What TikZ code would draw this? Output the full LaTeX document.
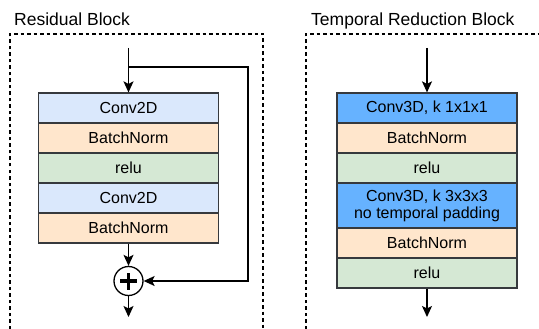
\documentclass[tikz,border=0pt]{standalone}
\usepackage{fontspec}
\setmainfont{Liberation Sans}
\usetikzlibrary{arrows.meta}

\definecolor{convlight}{HTML}{DAE8FC}
\definecolor{convstrong}{HTML}{66B2FF}
\definecolor{normfill}{HTML}{FFE6CC}
\definecolor{relufill}{HTML}{D5E8D4}
\definecolor{edge}{HTML}{36393D}

\tikzset{
  layer/.style={draw=edge, line width=1.2pt, minimum width=180pt, minimum height=30pt,
    inner sep=0pt, align=center, font=\fontsize{16pt}{17pt}\selectfont},
  conv2d/.style={layer, fill=convlight},
  conv3d/.style={layer, fill=convstrong},
  bnorm/.style={layer, fill=normfill},
  relu/.style={layer, fill=relufill},
  title/.style={anchor=base west, inner sep=0pt, font=\fontsize{17.5pt}{19pt}\selectfont},
  frame/.style={draw=black, line width=1.1pt, dash pattern=on 3.5pt off 3pt},
  flow/.style={draw=black, line width=1.3pt, -{Stealth[length=11pt,width=10pt,inset=2.5pt]}},
  sumnode/.style={circle, draw=black, line width=1.3pt, minimum size=29pt, inner sep=0pt, fill=white}
}

\begin{document}
\begin{tikzpicture}[x=1pt, y=-1pt]
  \useasboundingbox (0,0) rectangle (539,329);

  % ---------------- Residual block ----------------
  \node[title] (t1) at (14,26) {Residual Block};
  \draw[frame] (10,329) -- (10,34) -- (263,34) -- (263,329);

  \node[conv2d] (a1) at (128.5,108) {Conv2D};
  \node[bnorm]  (a2) at (128.5,138) {BatchNorm};
  \node[relu]   (a3) at (128.5,168) {relu};
  \node[conv2d] (a4) at (128.5,198) {Conv2D};
  \node[bnorm]  (a5) at (128.5,228) {BatchNorm};

  \node[sumnode] (sum) at (128.5,281) {};
  \draw[line width=3.4pt] ([xshift=-8.5pt]sum.center) -- ([xshift=8.5pt]sum.center);
  \draw[line width=3.4pt] ([yshift=-8.5pt]sum.center) -- ([yshift=8.5pt]sum.center);

  \coordinate (in1) at (128.5,48);
  \coordinate (sk)  at (128.5,67);
  \coordinate (skc) at (248,67);
  \coordinate (out1) at (128.5,317);

  \draw[flow] (in1) -- (a1.north);
  \draw[flow] (sk) -- (skc) |- (sum.east);
  \draw[flow] (a5.south) -- (sum.north);
  \draw[flow] (sum.south) -- (out1);

  % ---------------- Temporal reduction block ----------------
  \node[title] (t2) at (311,26) {Temporal Reduction Block};
  \draw[frame] (306,329) -- (306,34) -- (539,34);

  \node[conv3d] (b1) at (427,108) {Conv3D, k 1x1x1};
  \node[bnorm]  (b2) at (427,138) {BatchNorm};
  \node[relu]   (b3) at (427,168) {relu};
  \node[conv3d, minimum height=45pt] (b4) at (427,205.5) {Conv3D, k 3x3x3\\no temporal padding};
  \node[bnorm]  (b5) at (427,243) {BatchNorm};
  \node[relu]   (b6) at (427,273) {relu};

  \coordinate (in2) at (427,48);
  \coordinate (out2) at (427,317);

  \draw[flow] (in2) -- (b1.north);
  \draw[flow] (b6.south) -- (out2);
\end{tikzpicture}
\end{document}
